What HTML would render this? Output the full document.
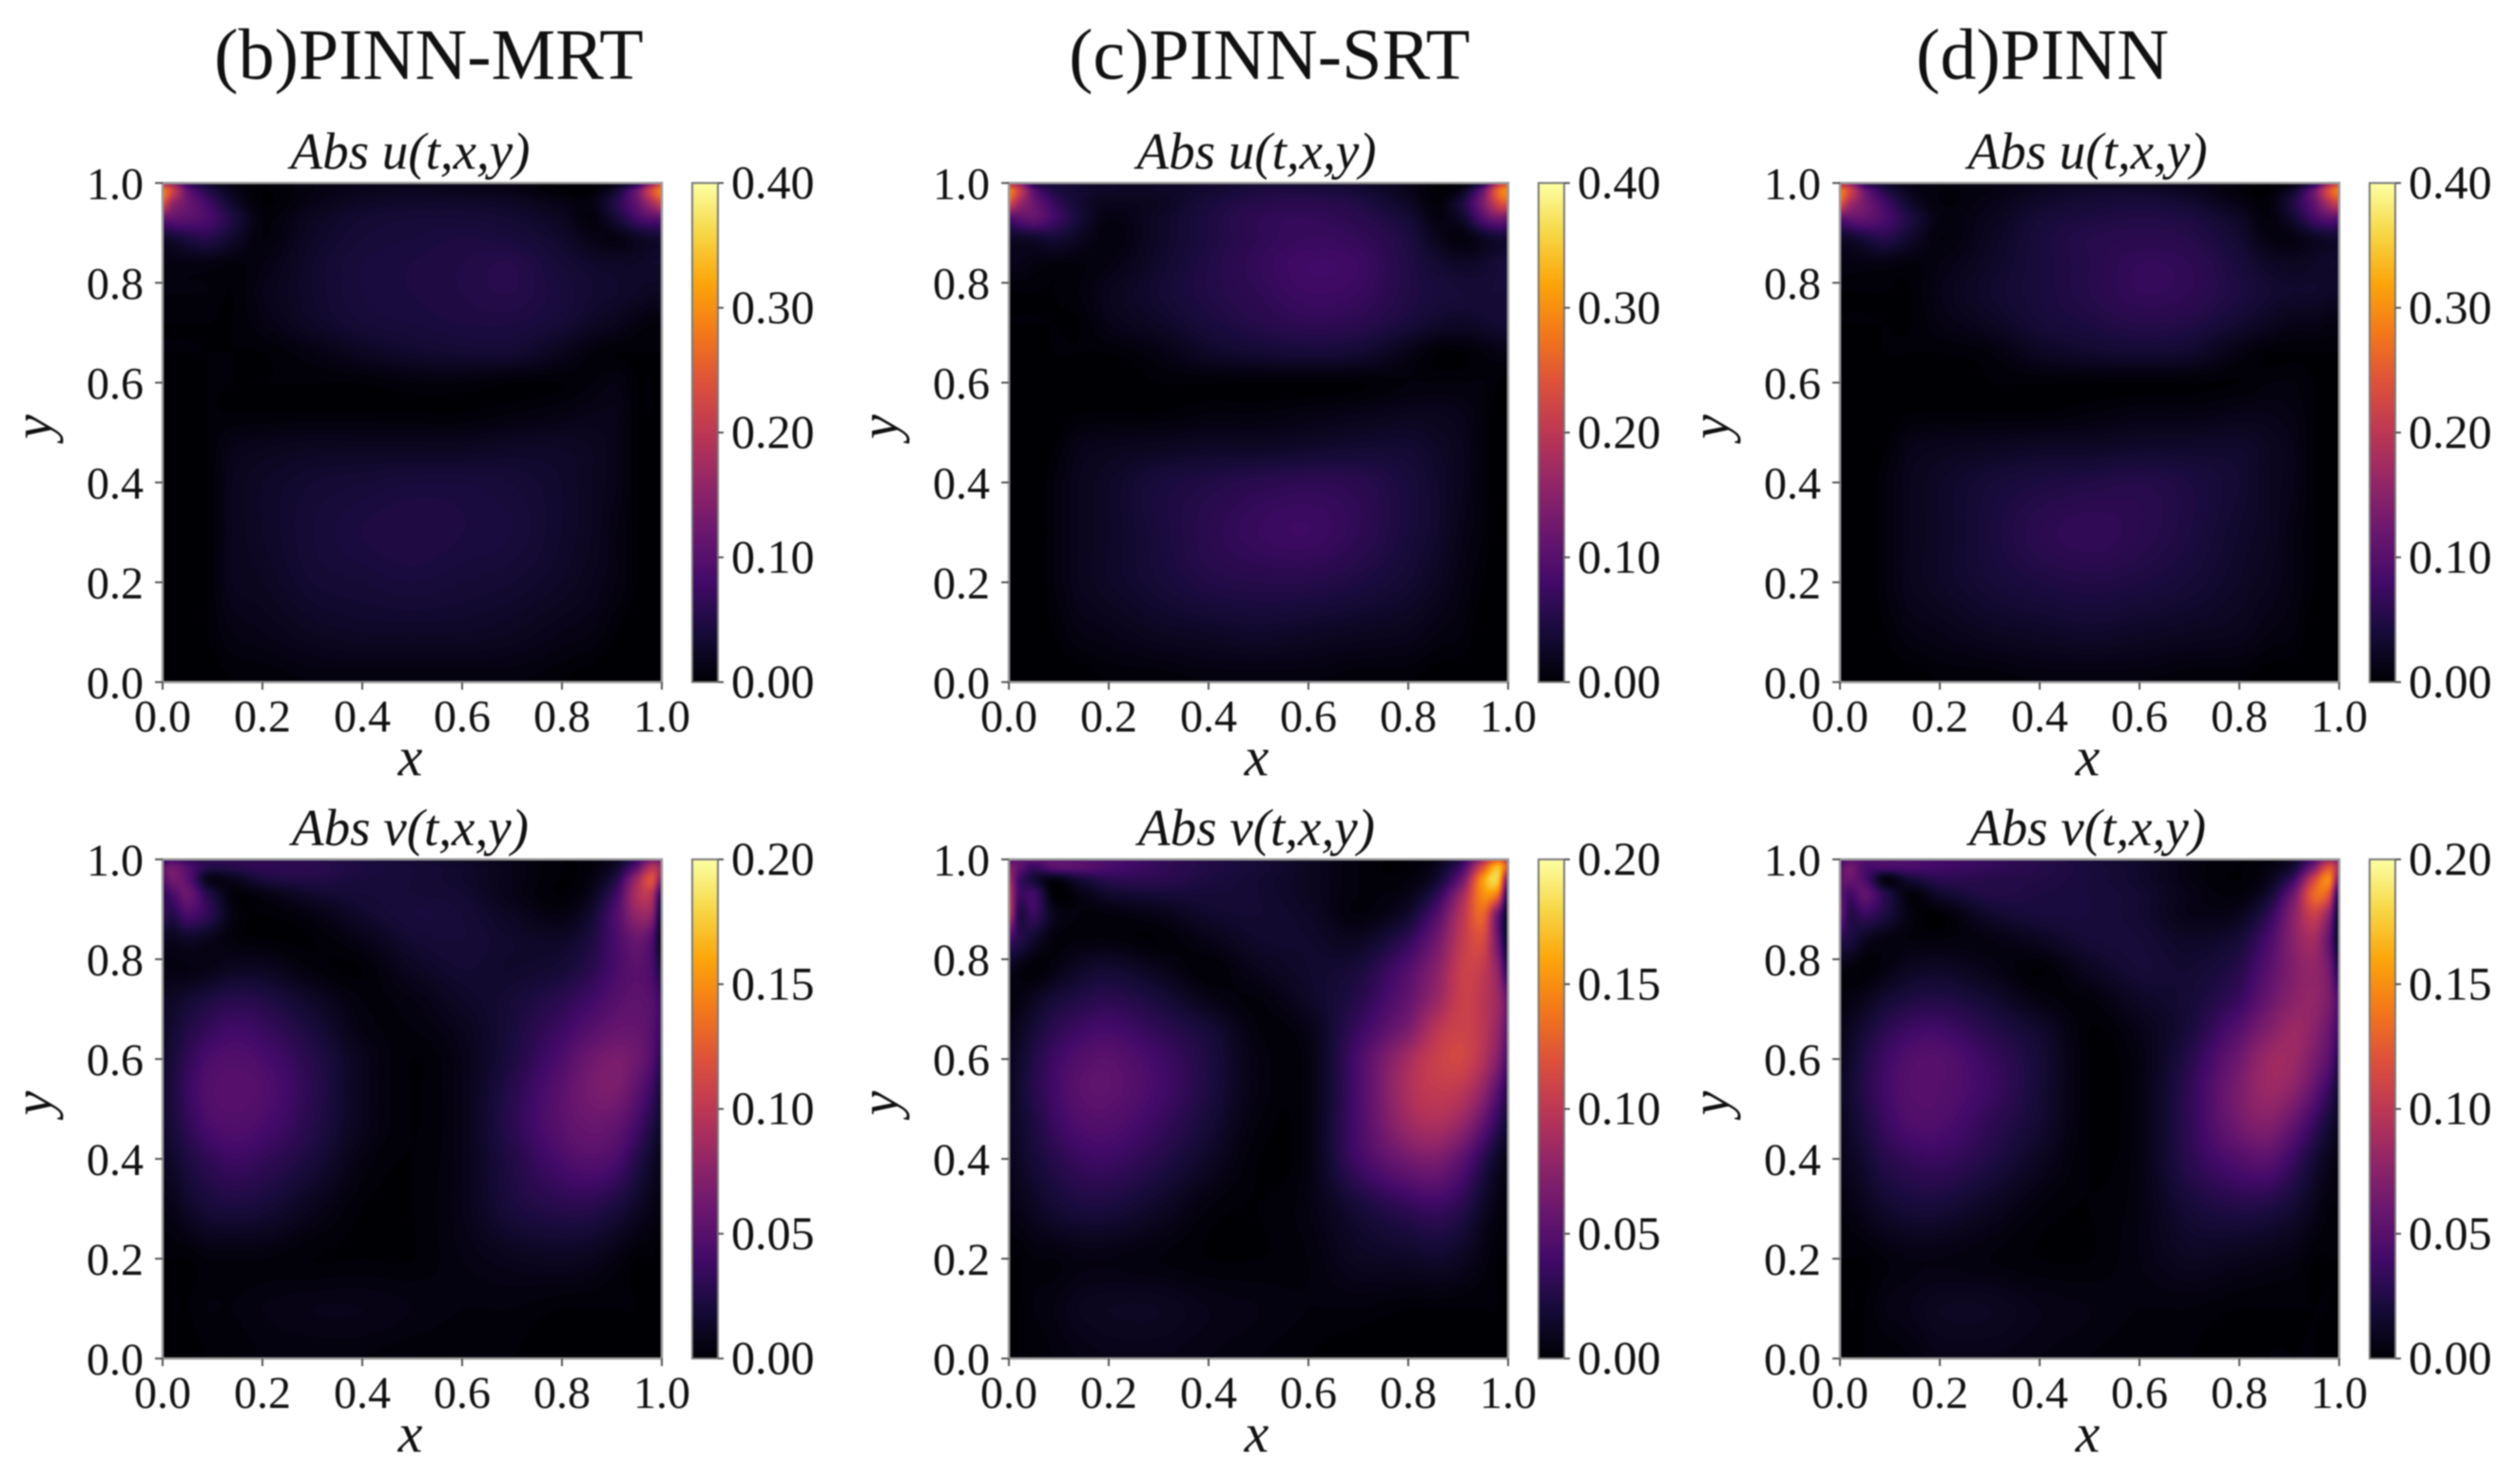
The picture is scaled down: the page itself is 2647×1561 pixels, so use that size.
<!DOCTYPE html>
<html lang="en">
<head>
<meta charset="utf-8">
<title>Absolute error fields for PINN-MRT, PINN-SRT and PINN</title>
<style>
html,body{margin:0;padding:0;background:#fff;width:2647px;height:1561px;overflow:hidden}
#figure{position:absolute;left:0;top:0;width:2647px;height:1561px;filter:blur(0.9px);background:#fff}
canvas{position:absolute;display:block}
svg{position:absolute;left:0;top:0}
text{font-family:"Liberation Serif","DejaVu Serif",serif;fill:#111}
</style>
</head>
<body>
<div id="figure">
<svg id="overlay" width="2647" height="1561" viewBox="0 0 2647 1561" xmlns="http://www.w3.org/2000/svg">
<defs id="defs"></defs>
<text x="451" y="83" text-anchor="middle" font-size="76">(b)PINN-MRT</text>
<text x="1335" y="83" text-anchor="middle" font-size="76">(c)PINN-SRT</text>
<text x="2148" y="83" text-anchor="middle" font-size="76">(d)PINN</text>
</svg>
</div>
<script>
// ---- chart data -------------------------------------------------------
// grid node coordinates of the sampled fields
const gridX = [0,.02,.05,.09,.14,.2,.3,.4,.5,.6,.7,.8,.86,.91,.95,.98,1];
const gridY = [1,.985,.96,.93,.89,.84,.78,.72,.66,.6,.54,.47,.4,.3,.2,.1,0];
const axisTicks = [0,0.2,0.4,0.6,0.8,1.0];
const axisTickLabels = ['0.0','0.2','0.4','0.6','0.8','1.0'];
const uBarTicks = [0,0.1,0.2,0.3,0.4];
const uBarLabels = ['0.00','0.10','0.20','0.30','0.40'];
const vBarTicks = [0,0.05,0.1,0.15,0.2];
const vBarLabels = ['0.00','0.05','0.10','0.15','0.20'];
const uMax = 0.4;
const vMax = 0.2;
// field values, in percent of the colour-bar maximum, rows from y=1 to y=0
const mrtU = [
[50,42,18,8,3,1,3,4,4,4,3,1,1,3,14,42,60],
[72,55,28,14,5,1,3,5,6,5,4,1,1,10,30,58,72],
[60,40,30,20,8,1,4,7,8,8,7,4,3,14,28,44,55],
[28,28,26,22,12,2,6,9,10,10,9,6,2,10,20,25,25],
[8,9,12,14,8,2,7,10,11,12,11,8,4,3,6,8,8],
[3,3,3,3,2,3,8,11,12,13,14,10,8,7,7,8,8],
[2,2,2,2,1,4,8,11,12,13,14,11,9,8,7,6,6],
[1,1,1,1,1,3,7,10,11,12,12,10,7,5,3,2,2],
[1,1,1,1,1,1,3,6,8,9,9,5,2,1,1,1,1],
[0,0,0,1,1,1,1,1,2,2,1,1,2,3,1,1,0],
[0,0,0,1,1,1,1,1,1,1,2,3,4,4,1,1,0],
[0,0,0,1,4,5,6,6,6,6,7,7,6,4,1,0,0],
[0,0,0,1,5,7,9,10,11,11,10,8,6,4,1,0,0],
[0,0,0,1,5,7,10,12,13,12,11,8,6,3,1,0,0],
[0,0,0,1,5,6,9,10,11,10,9,7,5,3,1,0,0],
[0,0,0,1,3,4,6,7,7,7,6,4,3,1,0,0,0],
[0,0,0,0,1,1,2,2,2,2,2,1,0,0,0,0,0]
];
const srtU = [
[50,42,14,10,8,7,7,8,9,9,8,4,1,2,14,50,62],
[72,55,26,13,9,7,7,9,12,12,10,5,1,6,30,66,75],
[58,42,30,18,9,5,6,11,14,15,13,7,2,12,34,56,62],
[22,26,28,20,10,3,7,12,16,17,15,10,3,8,24,32,30],
[7,7,8,10,6,2,7,12,16,18,17,12,5,2,6,9,9],
[4,4,3,2,2,3,8,13,17,20,19,13,9,7,8,10,10],
[1,1,1,1,2,5,9,13,16,19,18,13,11,10,10,10,10],
[1,1,1,1,1,4,7,11,14,16,15,11,8,7,8,9,9],
[0,0,0,1,1,1,3,7,9,10,9,4,1,1,2,3,3],
[0,0,0,0,0,0,1,1,1,1,1,2,2,2,2,1,0],
[0,0,0,0,1,1,1,2,2,3,4,5,5,4,2,0,0],
[0,0,0,1,4,5,6,7,7,8,9,9,7,5,2,0,0],
[0,0,0,2,5,7,11,13,15,16,15,11,8,5,2,0,0],
[0,0,0,2,5,7,11,15,18,19,16,11,8,4,2,0,0],
[0,0,0,2,5,7,10,13,14,14,12,9,6,3,1,0,0],
[0,0,0,1,3,4,6,7,8,7,6,5,3,2,0,0,0],
[0,0,0,0,0,1,1,2,2,2,1,1,0,0,0,0,0]
];
const pinnU = [
[50,42,16,8,3,2,3,4,5,5,4,2,1,3,15,44,60],
[72,56,30,14,5,2,3,6,8,8,6,2,1,9,30,60,72],
[62,44,32,20,8,2,4,8,10,11,9,4,2,13,28,46,55],
[26,28,28,22,12,3,5,10,12,13,12,7,2,9,20,26,25],
[7,8,11,14,8,2,6,11,14,15,14,9,3,3,6,8,8],
[3,3,3,3,2,3,7,11,14,17,16,11,7,6,7,8,8],
[1,1,1,1,1,4,8,11,14,17,16,12,9,8,8,7,7],
[1,1,1,1,1,3,6,10,12,14,13,9,6,4,4,3,3],
[0,0,0,1,1,1,2,6,8,9,8,3,1,1,1,1,1],
[0,0,0,0,0,0,1,1,1,1,1,1,2,2,1,0,0],
[0,0,0,0,1,1,1,1,2,3,3,4,4,3,1,0,0],
[0,0,0,1,4,5,6,7,7,8,8,8,6,4,1,0,0],
[0,0,0,2,5,7,10,12,13,14,12,9,6,4,1,0,0],
[0,0,0,2,5,7,11,15,17,15,12,8,6,3,1,0,0],
[0,0,0,2,5,7,10,12,13,12,10,7,5,3,1,0,0],
[0,0,0,1,3,4,6,7,8,7,6,5,3,2,0,0,0],
[0,0,0,0,0,1,1,2,2,2,1,1,0,0,0,0,0]
];
const mrtV = [
[14,20,16,14,15,15,14,11,9,6,3,1,2,6,18,34,30],
[28,32,24,14,14,16,15,12,10,8,4,1,2,8,26,48,42],
[24,32,26,5,5,11,13,11,10,8,4,1,3,14,42,60,34],
[16,22,30,14,2,3,8,10,10,9,4,1,5,20,46,48,12],
[16,14,22,16,3,1,3,8,11,10,6,3,9,24,40,38,6],
[6,5,7,5,2,1,1,4,9,10,8,7,12,22,30,24,3],
[3,3,3,4,6,6,2,1,6,9,8,10,15,22,26,22,10],
[6,7,9,12,14,13,7,2,3,7,10,15,20,25,27,25,18],
[7,9,13,17,20,18,11,3,2,5,11,19,25,29,29,25,18],
[8,11,16,22,24,22,14,5,1,4,12,23,31,34,31,24,14],
[8,12,18,24,26,24,15,5,1,4,14,26,33,34,27,19,10],
[8,11,16,22,24,22,14,5,1,4,15,26,30,28,21,13,7],
[6,8,12,16,19,17,11,3,1,4,13,22,25,22,14,8,4],
[3,4,7,10,11,10,5,1,1,4,11,14,14,11,7,4,2],
[1,1,1,2,2,2,1,1,1,3,5,6,5,3,1,1,0],
[0,1,1,2,2,3,4,4,3,2,2,1,1,1,1,0,0],
[0,0,0,1,1,2,2,2,1,1,1,0,0,0,0,0,0]
];
const srtV = [
[24,26,26,26,24,22,17,13,9,6,2,1,4,16,45,65,50],
[36,28,18,26,26,22,17,13,10,6,2,1,6,22,60,85,60],
[45,20,10,3,10,15,15,12,9,6,2,2,9,32,78,88,30],
[52,20,20,1,3,8,10,10,9,6,2,4,16,44,75,68,10],
[52,14,18,5,2,2,4,8,9,7,2,8,25,50,66,30,5],
[20,14,8,2,2,2,1,4,8,8,6,16,32,52,58,30,4],
[5,3,1,3,7,9,5,1,5,8,11,24,38,54,52,38,14],
[2,3,6,10,13,15,11,4,2,7,14,28,42,54,50,42,30],
[4,6,10,15,19,21,16,10,2,4,18,34,50,55,50,40,28],
[5,8,13,19,24,26,20,12,3,3,22,44,54,56,48,36,22],
[6,9,14,20,26,27,21,12,3,3,22,46,52,50,40,26,15],
[6,8,12,18,23,24,18,10,2,3,22,42,46,40,28,16,9],
[5,7,10,14,18,19,14,7,1,3,20,32,34,26,15,7,4],
[3,4,6,9,11,11,7,2,1,3,10,16,18,14,7,3,2],
[1,1,2,2,3,3,2,1,1,2,6,7,8,6,3,1,1],
[0,1,2,3,5,6,6,4,3,2,2,1,1,1,1,1,0],
[0,1,1,2,3,4,4,3,2,1,0,0,0,0,0,0,0]
];
const pinnV = [
[18,26,24,22,22,20,17,14,10,7,3,1,2,8,24,42,35],
[26,32,22,22,22,20,17,14,11,8,3,1,3,10,34,60,45],
[28,30,22,3,10,15,14,13,11,8,3,1,5,20,56,74,32],
[28,20,28,14,2,8,13,12,11,9,4,2,9,32,66,60,10],
[30,14,18,12,3,1,8,11,11,9,4,5,16,38,54,38,5],
[14,12,6,3,2,2,3,6,10,10,7,10,22,38,44,28,4],
[3,2,1,3,6,7,4,1,6,10,9,14,26,36,40,32,12],
[2,3,5,9,12,13,9,3,2,7,10,18,30,38,40,34,22],
[4,6,10,15,19,20,14,8,1,4,11,25,36,42,38,30,20],
[5,8,13,19,24,25,18,10,1,3,14,31,42,42,34,26,14],
[6,9,14,20,25,25,19,10,1,3,16,34,42,38,28,18,9],
[5,8,12,18,23,23,16,9,1,3,16,32,36,28,18,10,6],
[4,6,9,14,17,18,13,6,1,3,15,24,26,18,10,5,3],
[2,3,5,8,10,10,6,2,1,3,10,13,12,9,5,2,2],
[1,1,1,2,3,3,2,1,1,3,6,5,4,3,1,1,1],
[0,1,1,3,4,6,6,4,3,2,2,1,1,1,1,1,0],
[0,0,1,1,2,4,4,3,2,1,1,0,1,1,1,0,0]
];
const infernoStops = ['#000004','#160b39','#420a68','#6a176e','#932667','#bc3754','#dd513a','#f37819','#fca50a','#f6d746','#fcffa4'];

// ---- layout -----------------------------------------------------------
const columns = [
  {id:'pinn-mrt', left:171, u:mrtU, v:mrtV},
  {id:'pinn-srt', left:1061, u:srtU, v:srtV},
  {id:'pinn', left:1935, u:pinnU, v:pinnV}
];
const rows = [
  {id:'u', top:192.5, title:'Abs u(t,x,y)', max:uMax, ticks:uBarTicks, labels:uBarLabels, key:'u'},
  {id:'v', top:904, title:'Abs v(t,x,y)', max:vMax, ticks:vBarTicks, labels:vBarLabels, key:'v'}
];
const plotW = 525, plotH = 525;
const barGap = 557, barW = 27;
const NS = 'http://www.w3.org/2000/svg';
const figure = document.getElementById('figure');
const overlay = document.getElementById('overlay');
const defs = document.getElementById('defs');

const stopRGB = infernoStops.map(function(h){
  return [parseInt(h.slice(1,3),16),parseInt(h.slice(3,5),16),parseInt(h.slice(5,7),16)];
});
function colormap(t){
  t = Math.max(0,Math.min(1,t))*(stopRGB.length-1);
  const i = Math.min(stopRGB.length-2,Math.floor(t)), f = t-i;
  const a = stopRGB[i], b = stopRGB[i+1];
  return [a[0]+(b[0]-a[0])*f,a[1]+(b[1]-a[1])*f,a[2]+(b[2]-a[2])*f];
}
function catmull(f){
  const f2=f*f,f3=f2*f;
  return [-.5*f3+f2-.5*f,1.5*f3-2.5*f2+1,-1.5*f3+2*f2+.5*f,.5*f3-.5*f2];
}
// fractional grid position and spline weights for a coordinate
function nodeWeights(coord, nodes){
  const asc = nodes[0] < nodes[nodes.length-1];
  let i = 0;
  while(i < nodes.length-2 && (asc ? coord > nodes[i+1] : coord < nodes[i+1])) i++;
  const f = Math.max(0,Math.min(1,(coord-nodes[i])/(nodes[i+1]-nodes[i])));
  return {i:i,w:catmull(f)};
}
function drawField(canvas, grid, max){
  const ctx = canvas.getContext('2d');
  const W = canvas.width, H = canvas.height;
  const img = ctx.createImageData(W,H);
  const wx = [], wy = [];
  const nx = gridX.length, ny = gridY.length;
  for(let x=0;x<W;x++) wx.push(nodeWeights((x+.5)/W,gridX));
  for(let y=0;y<H;y++) wy.push(nodeWeights(1-(y+.5)/H,gridY));
  const levels = 100;
  let p = 0;
  for(let y=0;y<H;y++){
    const a = wy[y];
    const r0=grid[Math.max(0,a.i-1)], r1=grid[a.i], r2=grid[a.i+1], r3=grid[Math.min(ny-1,a.i+2)];
    for(let x=0;x<W;x++){
      const b = wx[x];
      const c0=Math.max(0,b.i-1), c1=b.i, c2=b.i+1, c3=Math.min(nx-1,b.i+2);
      const v0=r0[c0]*b.w[0]+r0[c1]*b.w[1]+r0[c2]*b.w[2]+r0[c3]*b.w[3];
      const v1=r1[c0]*b.w[0]+r1[c1]*b.w[1]+r1[c2]*b.w[2]+r1[c3]*b.w[3];
      const v2=r2[c0]*b.w[0]+r2[c1]*b.w[1]+r2[c2]*b.w[2]+r2[c3]*b.w[3];
      const v3=r3[c0]*b.w[0]+r3[c1]*b.w[1]+r3[c2]*b.w[2]+r3[c3]*b.w[3];
      const pct = v0*a.w[0]+v1*a.w[1]+v2*a.w[2]+v3*a.w[3];
      const value = pct/100*max;                 // field value in data units
      const t = Math.floor(Math.max(0,value/max)*levels)/levels;
      const c = colormap(t);
      img.data[p++]=c[0]; img.data[p++]=c[1]; img.data[p++]=c[2]; img.data[p++]=255;
    }
  }
  ctx.putImageData(img,0,0);
}
function addText(str,x,y,size,anchor,name,italic,rot){
  const el = document.createElementNS(NS,'text');
  el.textContent = str;
  el.setAttribute('x',x);
  el.setAttribute('y',y);
  el.setAttribute('font-size',size);
  el.setAttribute('text-anchor',anchor);
  if(italic) el.setAttribute('font-style','italic');
  if(rot) el.setAttribute('transform','rotate(-90 '+x+' '+y+')');
  
  
  overlay.appendChild(el);
}
function addLine(x1,y1,x2,y2,color,width,name){
  const el = document.createElementNS(NS,'line');
  el.setAttribute('x1',x1); el.setAttribute('y1',y1);
  el.setAttribute('x2',x2); el.setAttribute('y2',y2);
  el.setAttribute('stroke',color); el.setAttribute('stroke-width',width);
  
  
  overlay.appendChild(el);
}
// colour-bar gradient
const gradient = document.createElementNS(NS,'linearGradient');
gradient.setAttribute('id','inferno');
gradient.setAttribute('x1','0'); gradient.setAttribute('y1','1');
gradient.setAttribute('x2','0'); gradient.setAttribute('y2','0');
infernoStops.forEach(function(c,i){
  const s = document.createElementNS(NS,'stop');
  s.setAttribute('offset',(i/(infernoStops.length-1)));
  s.setAttribute('stop-color',c);
  gradient.appendChild(s);
});
defs.appendChild(gradient);

columns.forEach(function(col){
  rows.forEach(function(row){
    const pid = col.id+'-'+row.id;
    const left = col.left, top = row.top, bottom = top+plotH;
    const xScale = function(v){return left+v*plotW;};
    const yScale = function(v){return bottom-v*plotH;};
    const barScale = function(v){return bottom-v/row.max*plotH;};

    const canvas = document.createElement('canvas');
    canvas.width = plotW; canvas.height = plotH;
    canvas.style.left = left+'px'; canvas.style.top = top+'px';
    canvas.style.width = plotW+'px'; canvas.style.height = plotH+'px';
    
    
    figure.insertBefore(canvas,overlay);
    drawField(canvas,col[row.key],row.max);

    const frame = document.createElementNS(NS,'rect');
    frame.setAttribute('x',left); frame.setAttribute('y',top);
    frame.setAttribute('width',plotW); frame.setAttribute('height',plotH);
    frame.setAttribute('fill','none'); frame.setAttribute('stroke','#9a9a9a'); frame.setAttribute('stroke-width','2.5');
    
    
    overlay.appendChild(frame);

    addText(row.title,left+plotW/2-2,top-15,55,'middle','subplot-title-'+pid,true,false);
    axisTicks.forEach(function(v,i){
      addLine(xScale(v),bottom,xScale(v),bottom+8,'#555',2,'x-tick-'+pid+'-'+i);
      addLine(left-8,yScale(v),left,yScale(v),'#555',2,'y-tick-'+pid+'-'+i);
      addText(axisTickLabels[i],xScale(v),bottom+52,48,'middle','x-tick-label-'+pid+'-'+i,false,false);
      addText(axisTickLabels[i],left-20,yScale(v)+17,48,'end','y-tick-label-'+pid+'-'+i,false,false);
    });
    addText('x',left+plotW/2-2,bottom+98,58,'middle','x-axis-title-'+pid,true,false);
    addText('y',left-117,top+plotH/2-6,58,'middle','y-axis-title-'+pid,true,true);

    const bar = document.createElementNS(NS,'rect');
    bar.setAttribute('x',left+barGap); bar.setAttribute('y',top);
    bar.setAttribute('width',barW); bar.setAttribute('height',plotH);
    bar.setAttribute('fill','url(#inferno)'); bar.setAttribute('stroke','#7a7a7a'); bar.setAttribute('stroke-width','2');
    
    
    overlay.appendChild(bar);
    row.ticks.forEach(function(v,i){
      addLine(left+barGap+barW,barScale(v),left+barGap+barW+6,barScale(v),'#555',2,'colorbar-tick-'+pid+'-'+i);
      addText(row.labels[i],left+598,barScale(v)+16,50,'start','colorbar-label-'+pid+'-'+i,false,false);
    });
  });
});
</script>
</body>
</html>
